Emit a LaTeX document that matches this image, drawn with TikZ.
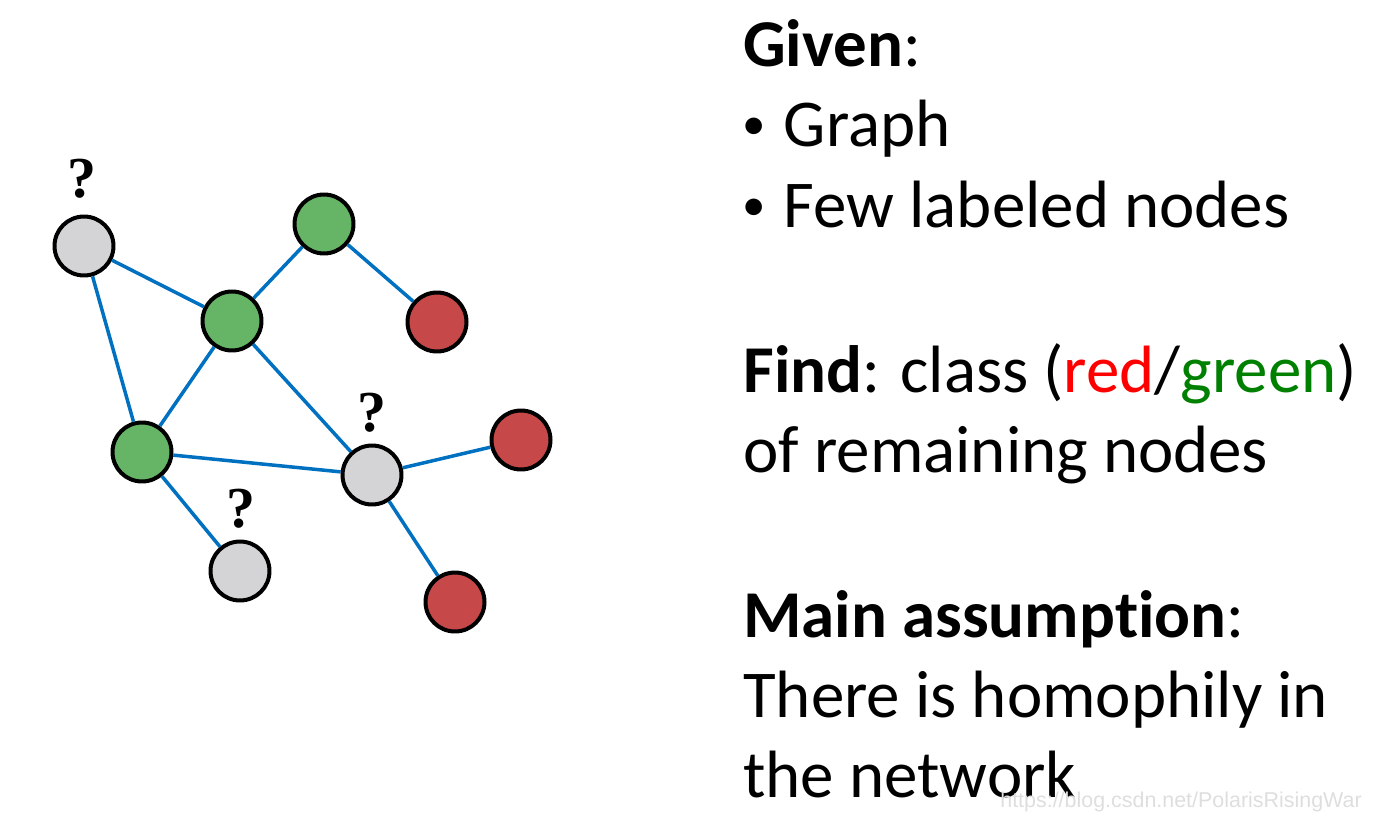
\documentclass[tikz,border=0pt]{standalone}
\usepackage{fontspec}
\setmainfont{Carlito}[Ligatures=NoCommon]
\newfontfamily\qfont{Liberation Serif}
\newfontfamily\wmfont{Liberation Sans}
\usepackage{graphicx}
\usepackage{tikz}
\usetikzlibrary{positioning}
\definecolor{edgeblue}{RGB}{0,112,192}
\definecolor{unkgray}{RGB}{212,212,215}
\definecolor{labgreen}{RGB}{102,180,102}
\definecolor{labred}{RGB}{198,72,72}
\definecolor{txtred}{RGB}{255,0,0}
\definecolor{txtgreen}{RGB}{0,128,0}
\newcommand{\bul}{\raisebox{0.105em}{\scalebox{0.7}{\textbullet}}\hspace{0.27em}}

\begin{document}
\begin{tikzpicture}[x=0.02cm, y=-0.02cm,
  vert/.style={circle, draw=black, line width=0.08cm, minimum size=1.18cm, inner sep=0},
  unk/.style={vert, fill=unkgray},
  grn/.style={vert, fill=labgreen},
  rd/.style={vert, fill=labred},
  edge/.style={draw=edgeblue, line width=0.07cm},
  qmark/.style={anchor=base, inner sep=0, font=\qfont\bfseries\fontsize{33}{33}\selectfont},
  txt/.style={anchor=base west, inner sep=0, font=\fontsize{38.1}{46}\selectfont}]
\useasboundingbox (0,0) rectangle (1387,821);

% graph
\node[unk] (q1) at (84,246) {};
\node[grn] (g1) at (324,224) {};
\node[grn] (g2) at (232,321) {};
\node[rd]  (r1) at (437,322) {};
\node[grn] (g3) at (142,452) {};
\node[unk] (q2) at (372,475) {};
\node[rd]  (r2) at (521,440) {};
\node[unk] (q3) at (240,571) {};
\node[rd]  (r3) at (455,602) {};

\foreach \a/\b in {q1/g2, q1/g3, g1/g2, g1/r1, g2/g3, g2/q2, g3/q2, g3/q3, q2/r2, q2/r3}
  \draw[edge] (\a) -- (\b);

\node[qmark] (q1mark) at (82,197) {?};
\node[qmark] (q2mark) at (372,431) {?};
\node[qmark] (q3mark) at (241,527) {?};

% text
\node[txt] (given) at (743,67) {\textbf{Given}:};
\node[txt] (graph) at (742,147) {\bul Graph};
\node[txt] (few) at (742,228) {\bul Few labeled nodes};
\node[txt] (find) at (743,392) {\textbf{Find}: class (\textcolor{txtred}{red}/\textcolor{txtgreen}{green})};
\node[txt] (remain) at (743,472) {of remaining nodes};
\node[txt] (main) at (743,637) {\textbf{Main assumption}:};
\node[txt] (there) at (743,717) {There is homophily in};
\node[txt] (net) at (743,797) {the network};

\node[anchor=base west, inner sep=0, text=black!13, font=\wmfont\fontsize{12.2}{13}\selectfont] (wm) at (1000,807) {https://blog.csdn.net/PolarisRisingWar};
\end{tikzpicture}
\end{document}
